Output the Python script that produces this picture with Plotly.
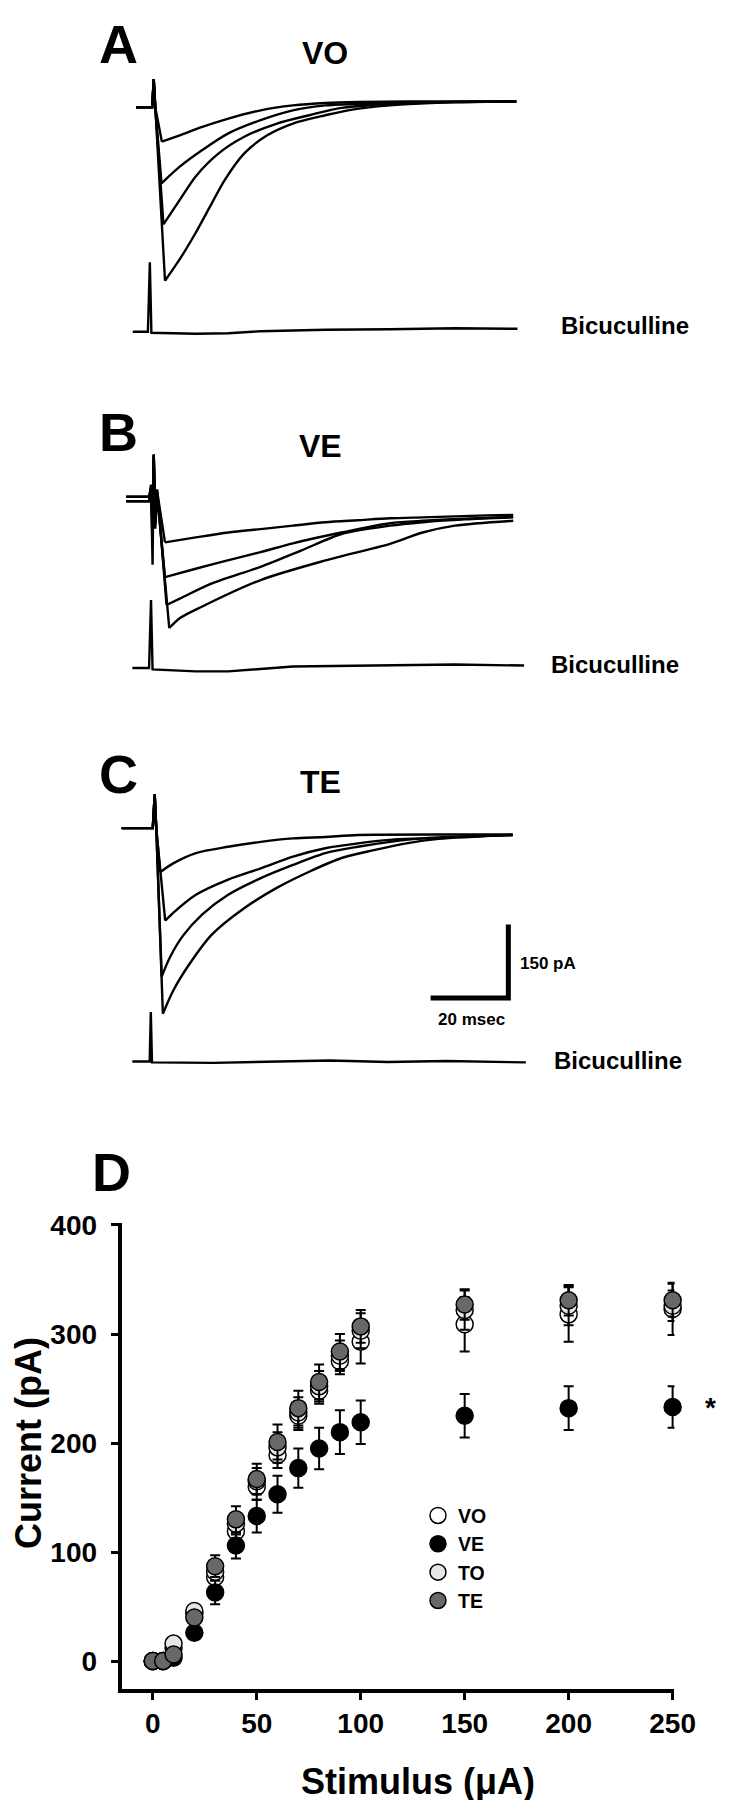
import plotly.graph_objects as go

W, H = 738, 1800

# ---- panels A-C: evoked currents, time (ms from stimulus) and current (pA) ----
# four stimulus intensities per panel, plus the bicuculline trace
VO_T = [
    [-4.5, -0.4, 0, 0.4, 2.1, 6.7, 12.5, 19.2, 27.5, 35.8, 44.2, 52.5, 65, 80, 93.3],
    [-4.5, -0.4, 0, 0.4, 2.0, 6.7, 12.5, 19.2, 27.5, 35.8, 44.2, 52.5, 65, 80, 93.3],
    [-4.5, -0.4, 0, 0.4, 2.5, 6.7, 10.8, 16.7, 23.3, 31.7, 40, 48.3, 60.8, 77.5, 93.3],
    [-4.5, -0.4, 0, 0.4, 2.9, 6.7, 10.8, 15, 18.3, 23.3, 29.2, 35.8, 44.2, 50, 60.8, 77.5, 93.3],
]
VO_PA = [
    [0, 0, 58, 0, -70, -57, -40, -23, -6, 4, 9, 11, 12, 12, 12],
    [0, 0, 58, 0, -155, -121, -87, -53, -26, -6, 4, 7, 10, 11, 12],
    [0, 0, 58, 0, -239, -189, -141, -94, -60, -33, -16, -1, 7, 11, 12],
    [0, 0, 58, 0, -354, -310, -256, -195, -148, -94, -57, -33, -16, -6, 4, 11, 12],
]
VO_BIC_T = [-5.4, -1.5, -1, -0.6, 10.8, 19.2, 27.5, 44.2, 60.8, 77.5, 93.6]
VO_BIC_PA = [0, 0, 142, -2, -4, -3, 1, 4, 5, 7, 6]

VE_T = [
    [-7.1, -1.2, -0.7, -0.3, 0, 0.4, 0.9, 2.9, 10.8, 19.2, 27.5, 35.8, 44.2, 52.5, 60.8, 69.2, 77.5, 85.8, 92.5],
    [-7.1, -1.2, -0.7, -0.3, 0, 0.4, 0.9, 2.9, 10.8, 17.5, 27.5, 35.8, 48.3, 60.8, 69.2, 80, 92.5],
    [-7.1, -1.2, -0.7, -0.3, 0, 0.4, 0.9, 3.3, 6.7, 15, 27.5, 37.9, 48.3, 60.8, 69.2, 80, 92.5],
    [-7.1, -1.2, -0.7, -0.3, 0, 0.4, 0.9, 4.0, 6.7, 12.5, 27.5, 44.2, 60.8, 69.2, 77.5, 92.5],
]
VE_PA = [
    [5, 5, 20, -40, 91, -30, 15, -88, -78, -68, -61, -54, -47, -43, -39, -37, -35, -33, -32],
    [5, 5, 25, -60, 91, -40, 10, -159, -142, -128, -108, -90, -68, -49, -44, -40, -36],
    [-4, -4, 15, -90, 91, -50, 20, -216, -203, -172, -138, -105, -71, -54, -47, -41, -37],
    [-4, -4, 30, -134, 91, -60, 10, -263, -243, -219, -165, -125, -91, -68, -54, -44],
]
VE_BIC_T = [-5.5, -1.2, -0.7, -0.3, 10.8, 19.2, 35.8, 60.8, 77.5, 95.3]
VE_BIC_PA = [0, 0, 139, -3, -7, -7, 3, 5, 7, 5]

TE_T = [
    [-8.5, -0.5, 0, 0.4, 1.4, 4.75, 10.6, 18.9, 27.3, 35.6, 43.9, 52.3, 77.3, 92.1],
    [-8.5, -0.5, 0, 0.4, 2.7, 4.75, 10.6, 18.9, 27.3, 35.6, 43.9, 52.3, 60.6, 68.9, 92.1],
    [-8.5, -0.5, 0, 0.4, 1.8, 3.9, 7.25, 12.25, 18.9, 27.3, 35.6, 43.9, 52.3, 60.6, 68.9, 92.1],
    [-8.5, -0.5, 0, 0.4, 2.1, 4.75, 8.9, 14.75, 23.1, 31.4, 39.75, 48.1, 56.4, 64.75, 73.1, 92.1],
]
TE_PA = [
    [0, 0, 69, 0, -90, -72, -51, -38, -28, -21, -18, -14, -13, -13],
    [0, 0, 69, 0, -189, -173, -136, -105, -82, -58, -41, -31, -24, -21, -14],
    [0, 0, 69, 0, -303, -264, -220, -176, -136, -102, -75, -51, -38, -28, -21, -14],
    [0, 0, 69, 0, -379, -332, -278, -217, -163, -122, -89, -61, -45, -31, -22, -14],
]
TE_BIC_T = [-5.75, -1.3, -1, -0.7, 15, 30, 45, 60, 75, 95.5]
TE_BIC_PA = [0, 0, 101, -2, -3, 0, 2, -1, 1, -2]

SCALE_MS = 20
SCALE_PA = 150

# ---- panel D: input/output curves ----
STIM = [0, 5, 10, 20, 30, 40, 50, 60, 70, 80, 90, 100, 150, 200, 250]
VO_MEAN = [0, 0, 12, 44, 77, 119, 160, 189, 225, 248, 275, 293, 309, 318, 323]
VO_SEM = [0, 0, 3, 5, 8, 10, 12, 12, 13, 12, 12, 20, 25, 25, 24]
VE_MEAN = [0, 0, 3, 26, 63, 106, 133, 153, 177, 195, 210, 219, 225, 232, 233]
VE_SEM = [0, 0, 2, 4, 11, 12, 15, 17, 18, 19, 20, 20, 20, 20, 19]
TO_MEAN = [0, 0, 16, 46, 82, 126, 165, 196, 228, 252, 280, 303, 322, 326, 326]
TO_SEM = [0, 0, 3, 5, 8, 10, 12, 14, 14, 14, 14, 16, 18, 18, 14]
TE_MEAN = [0, 0, 6, 40, 87, 130, 167, 201, 232, 256, 284, 307, 327, 331, 331]
TE_SEM = [0, 0, 2, 5, 10, 12, 14, 16, 16, 16, 16, 15, 14, 14, 15]

FONT = "Liberation Sans, Arial, sans-serif"
PX_PER_MS = 4.0
PA_PER_PX = SCALE_PA / 74.0


def px_x(p):
    return p / W


def px_y(p):
    return 1 - p / H


def label(text, x, y, size, xanchor="center", **kw):
    # text placed in page pixels
    return dict(text="<b>%s</b>" % text, x=px_x(x), y=px_y(y), xref="paper", yref="paper",
                xanchor=xanchor, yanchor="middle", showarrow=False,
                font=dict(size=size, family=FONT, color="black"), **kw)


def trace_axes(stim_px, base_px, top_px, bottom_px):
    xa = dict(domain=[px_x(100), px_x(560)],
              range=[(100 - stim_px) / PX_PER_MS, (560 - stim_px) / PX_PER_MS],
              visible=False, fixedrange=True)
    ya = dict(domain=[px_y(bottom_px), px_y(top_px)],
              range=[-(bottom_px - base_px) * PA_PER_PX, -(top_px - base_px) * PA_PER_PX],
              visible=False, fixedrange=True)
    return xa, ya


fig = go.Figure()
layout_axes = {}
annotations = []

# (letter, title, times, currents, bic t, bic pA, stim px, baseline px, top, bottom, bic gap px,
#  letter y, title (x, y), bicuculline label (x, y))
panels = [
    ("A", "VO", VO_T, VO_PA, VO_BIC_T, VO_BIC_PA, 150, 87, 40, 335, 226, 23, (326, 32), (635, 307)),
    ("B", "VE", VE_T, VE_PA, VE_BIC_T, VE_BIC_PA, 150, 481.7, 400, 690, 170, 414, (322, 428), (625, 648)),
    ("C", "TE", TE_T, TE_PA, TE_BIC_T, TE_BIC_PA, 151, 813, 740, 1075, 235, 758, (322, 767), (628, 1047)),
]

line_style = dict(color="black", width=2.4)
for i, (letter, title, ts, pas, bt, bpa, stim_px, base_px, top, bot, gap, ly, tpos, bpos) in enumerate(panels, start=1):
    sfx = "" if i == 1 else str(i)
    xa, ya = trace_axes(stim_px, base_px, top, bot)
    layout_axes["xaxis" + sfx] = xa
    layout_axes["yaxis" + sfx] = ya
    for t, pa in zip(ts, pas):
        k = pa.index(min(pa))
        # fast part (baseline, artifact, rise) straight, decay smoothed
        fig.add_trace(go.Scatter(x=t[:k + 1], y=pa[:k + 1], mode="lines", line=line_style,
                                 showlegend=False, hoverinfo="skip", xaxis="x" + sfx, yaxis="y" + sfx))
        fig.add_trace(go.Scatter(x=t[k:], y=pa[k:], mode="lines",
                                 line=dict(line_style, shape="spline", smoothing=0.8),
                                 showlegend=False, hoverinfo="skip", xaxis="x" + sfx, yaxis="y" + sfx))
    offset = -gap * PA_PER_PX
    fig.add_trace(go.Scatter(x=bt, y=[v + offset for v in bpa], mode="lines", line=line_style,
                             showlegend=False, hoverinfo="skip", xaxis="x" + sfx, yaxis="y" + sfx))
    annotations.append(label(letter, 114, ly, 54))
    annotations.append(label(title, tpos[0], tpos[1], 32))
    annotations.append(label("Bicuculline", bpos[0], bpos[1], 24))

# scale bar in panel C
corner_t = (515 - 151) / PX_PER_MS
corner_pa = -(984 - 813) * PA_PER_PX
fig.add_trace(go.Scatter(x=[corner_t - SCALE_MS, corner_t, corner_t],
                         y=[corner_pa, corner_pa, corner_pa + SCALE_PA],
                         mode="lines", line=dict(color="black", width=5),
                         showlegend=False, hoverinfo="skip", xaxis="x3", yaxis="y3"))
annotations.append(label("%d pA" % SCALE_PA, 525, 949, 17, xanchor="left"))
annotations.append(label("%d msec" % SCALE_MS, 477, 1006, 17))

# panel D
groups = [
    ("VO", VO_MEAN, VO_SEM, "white"),
    ("VE", VE_MEAN, VE_SEM, "black"),
    ("TO", TO_MEAN, TO_SEM, "#e6e6e6"),
    ("TE", TE_MEAN, TE_SEM, "#686868"),
]
for name, mean, sem, fill in groups:
    fig.add_trace(go.Scatter(
        x=STIM, y=mean, mode="markers", name="<b>%s</b>" % name,
        marker=dict(size=17, color=fill, line=dict(color="black", width=1.5)),
        error_y=dict(type="data", array=sem, color="black", thickness=2, width=5),
        cliponaxis=False, xaxis="x4", yaxis="y4"))

axis_style = dict(showline=True, linewidth=4, linecolor="black", showgrid=False, zeroline=False,
                  ticks="outside", ticklen=7, tickwidth=3, tickcolor="black", fixedrange=True,
                  tickfont=dict(size=28, family=FONT, color="black", weight="bold"))
layout_axes["xaxis4"] = dict(axis_style, domain=[px_x(117), px_x(686)], range=[-14.95, 250.9], anchor="y4",
                             tickvals=[0, 50, 100, 150, 200, 250], ticklabelstandoff=0)
layout_axes["yaxis4"] = dict(axis_style, domain=[px_y(1680), px_y(1211)], range=[-25.5, 401.6], anchor="x4",
                             tickvals=[0, 100, 200, 300, 400], ticklabelstandoff=8)

annotations.append(label("D", 107, 1159, 54))
annotations.append(label("Current (pA)", 21, 1432, 36, textangle=-90))
annotations.append(label("Stimulus (\u03bcA)", 422, 1773, 36))
annotations.append(dict(text="<b>*</b>", x=STIM[-1], y=VE_MEAN[-1], xref="x4", yref="y4", xshift=38,
                        xanchor="center", yanchor="middle", showarrow=False,
                        font=dict(size=28, family=FONT, color="black")))

fig.update_layout(
    width=W, height=H, autosize=False,
    margin=dict(l=0, r=0, t=0, b=0),
    paper_bgcolor="white", plot_bgcolor="white",
    font=dict(family=FONT, color="black"),
    showlegend=True,
    legend=dict(x=px_x(422), y=px_y(1486), xanchor="left", yanchor="top",
                font=dict(size=19.5, family=FONT, color="black"),
                bgcolor="rgba(0,0,0,0)", tracegroupgap=0, itemsizing="trace"),
    hovermode=False,
    annotations=annotations,
    **layout_axes,
)

fig.write_html("out.html")
